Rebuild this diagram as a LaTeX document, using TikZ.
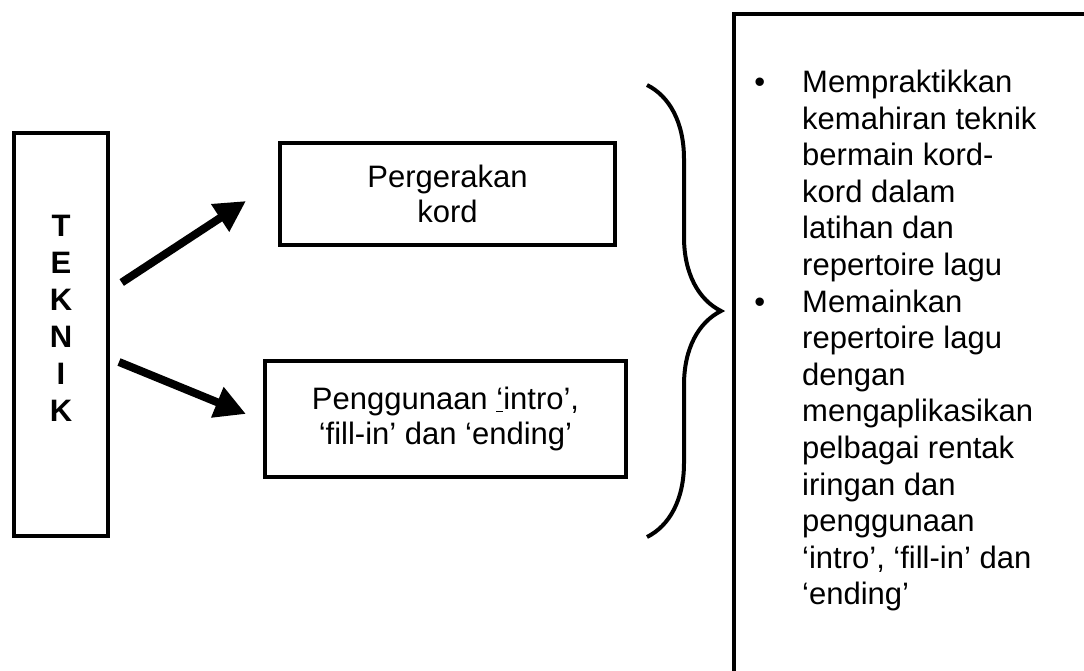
\documentclass[tikz,border=0pt]{standalone}
\usepackage{fontspec}
\setmainfont{Liberation Sans}
\usetikzlibrary{arrows.meta, positioning, decorations.pathreplacing}

\begin{document}
\begin{tikzpicture}[
    x=1pt, y=1pt,
    box_node/.style={rectangle, draw=black, line width=4pt, inner sep=0pt, align=center, font=\fontsize{31}{35}\selectfont},
    letter_node/.style={align=center, inner sep=0pt, font=\fontsize{31}{37}\selectfont\bfseries},
    list_node/.style={align=left, inner sep=0pt, font=\fontsize{31}{36.6}\selectfont},
    arrow/.style={-{Triangle[length=31pt, width=31pt]}, line width=8pt, draw=black},
    brace_line/.style={decorate, decoration={brace, amplitude=74pt}, line width=4pt}
]
\useasboundingbox (0,0) rectangle (1084,-670);
\clip (0,0) rectangle (1084,-670);

\node[box_node, minimum width=94pt, minimum height=403pt] (teknik) at (61,-334.5) {};
\node[letter_node] (teknikText) at ([yshift=16pt]teknik.center) {T\\E\\K\\N\\I\\K};

% Teknik
\node[box_node, minimum width=335pt, minimum height=102pt, right=168pt of teknik, yshift=140.5pt] (kord) {Pergerakan\\kord};
\node[box_node, minimum width=361pt, minimum height=116pt, right=153pt of teknik, yshift=-84.5pt] (intro) {Penggunaan \underline{‘}intro’,\\‘fill-in’ dan ‘ending’};

% Hasil
\node[box_node, minimum width=420pt, minimum height=720pt, anchor=north west] (hasil) at (732,-12) {};
\node[list_node, anchor=north west] (hasilText) at ([xshift=70pt, yshift=-57.8pt]hasil.north west) {%
    \llap{•\hspace{37pt}}Mempraktikkan\\
    kemahiran teknik\\
    bermain kord-\\
    kord dalam\\
    latihan dan\\
    repertoire lagu\\
    \llap{•\hspace{37pt}}Memainkan\\
    repertoire lagu\\
    dengan\\
    mengaplikasikan\\
    pelbagai rentak\\
    iringan dan\\
    penggunaan\\
    ‘intro’, ‘fill-in’ dan\\
    ‘ending’};

% Brace
\coordinate (bracetop) at (647,-85);
\coordinate (bracebot) at (647,-537);
\draw[brace_line] (bracetop) -- (bracebot);

% Connections
\draw[arrow] ([xshift=11.7pt, yshift=52pt]teknik.east) -- ([xshift=-32pt, yshift=-7pt]kord.west);
\draw[arrow] ([xshift=9pt, yshift=-27.5pt]teknik.east) -- ([xshift=-17pt, yshift=5pt]intro.west);

\end{tikzpicture}
\end{document}
